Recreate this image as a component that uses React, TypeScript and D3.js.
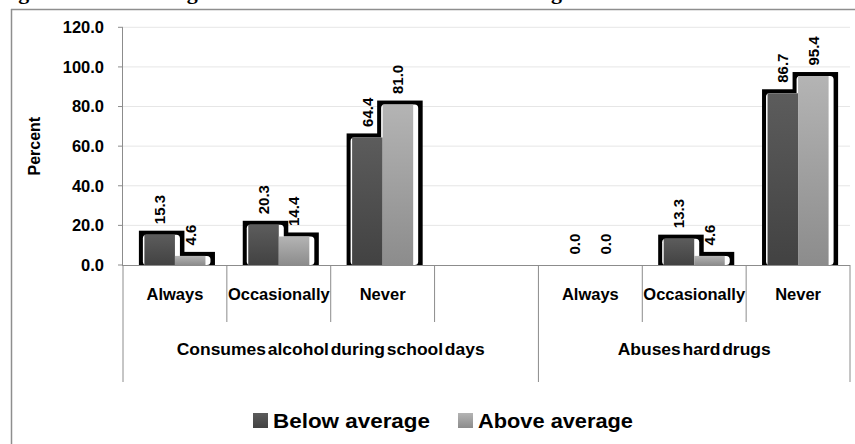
import React from "react";
import * as d3 from "d3";

// Chart data
const categories = ["Always", "Occasionally", "Never", "", "Always", "Occasionally", "Never"];
const groupLabels = ["Consumes alcohol during school days", "Abuses hard drugs"];
const groupSizes = [4, 3];
const seriesNames = ["Below average", "Above average"];
const belowAverage: (number | null)[] = [15.3, 20.3, 64.4, null, 0.0, 13.3, 86.7];
const aboveAverage: (number | null)[] = [4.6, 14.4, 81.0, null, 0.0, 4.6, 95.4];
const yTicks = [0, 20, 40, 60, 80, 100, 120];
const yTitle = "Percent";
const figureTitle = "Figure 4.8: Drug abuse behavior and learning achievement level";

const W = 855;
const H = 444;
const FONT = "'Liberation Sans', Arial, Helvetica, sans-serif";

export default function App() {
  const plotLeft = 123;
  const plotRight = 850;
  const plotTop = 27.3;
  const plotBottom = 265;
  const catRowBottom = 322;
  const groupRowBottom = 382;

  const y = d3.scaleLinear().domain([0, 120]).range([plotBottom, plotTop]);
  const x = d3
    .scaleBand<number>()
    .domain(d3.range(categories.length))
    .range([plotLeft, plotRight])
    .padding(0);
  const slot = x.bandwidth();
  const barW = slot * 0.294;

  const series = [belowAverage, aboveAverage];
  const gradIds = ["gradBelow", "gradAbove"];

  type Bar = { x0: number; top: number; v: number; s: number; i: number };
  const bars: Bar[] = [];
  series.forEach((vals, s) => {
    vals.forEach((v, i) => {
      if (v === null) return;
      const c = (x(i) as number) + slot / 2;
      const x0 = s === 0 ? c - barW : c;
      bars.push({ x0, top: y(v), v, s, i });
    });
  });
  const visibleBars = bars.filter((b) => b.v > 0);

  // group boundaries along the category axis
  const groupBounds: number[] = [0];
  groupSizes.forEach((n, k) => groupBounds.push(groupBounds[k] + n));
  const groupTextLen = [308, 153];
  const legendTextLen = [157, 155];

  return (
    <svg width={W} height={H} style={{ display: "block", position: "absolute", left: 0, top: 0 }}>
      <defs>
        <linearGradient id="gradBelow" x1="0" y1="0" x2="0" y2="1">
          <stop offset="0%" stopColor="#5c5c5c" />
          <stop offset="100%" stopColor="#424242" />
        </linearGradient>
        <linearGradient id="gradAbove" x1="0" y1="0" x2="0" y2="1">
          <stop offset="0%" stopColor="#b4b4b4" />
          <stop offset="100%" stopColor="#8c8c8c" />
        </linearGradient>
      </defs>
      <rect width={W} height={H} fill="#ffffff" />

      {/* caption line above the chart frame, running off the top edge */}
      <text
        x={-8}
        y={-1.5}
        fontFamily="'Liberation Serif', 'Times New Roman', serif"
        fontWeight="bold"
        fontSize={22}
        textLength={800}
        lengthAdjust="spacing"
        fill="#000"
      >
        {figureTitle}
      </text>

      {/* chart frame */}
      <line x1={11.5} x2={11.5} y1={9} y2={H} stroke="#8e8e8e" strokeWidth={1.5} />
      <line x1={11} x2={W} y1={9.5} y2={9.5} stroke="#8e8e8e" strokeWidth={1.5} />

      {/* gridlines */}
      {yTicks
        .filter((t) => t > 0)
        .map((t) => (
          <line key={"g" + t} x1={plotLeft} x2={plotRight} y1={y(t)} y2={y(t)} stroke="#e6e6e6" strokeWidth={1} />
        ))}

      {/* y axis */}
      <line x1={plotLeft - 0.5} x2={plotLeft - 0.5} y1={plotTop} y2={plotBottom} stroke="#8c8c8c" strokeWidth={1} />
      {yTicks.map((t) => (
        <g key={"t" + t}>
          <line x1={plotLeft - 5} x2={plotLeft} y1={y(t)} y2={y(t)} stroke="#8c8c8c" strokeWidth={1} />
          <text
            x={104}
            y={y(t)}
            dy="0.35em"
            textAnchor="end"
            fontFamily={FONT}
            fontWeight="bold"
            fontSize={16.5}
            fill="#000"
          >
            {t.toFixed(1)}
          </text>
        </g>
      ))}
      <text
        transform={`translate(${40},${(plotTop + plotBottom) / 2}) rotate(-90)`}
        textAnchor="middle"
        fontFamily={FONT}
        fontWeight="bold"
        fontSize={16}
        fill="#000"
      >
        {yTitle}
      </text>

      {/* bars: outlines, bevel highlights, then fills */}
      {visibleBars.map((b, k) => (
        <rect key={"o" + k} x={b.x0 - 5.5} y={b.top - 4} width={barW + 15} height={plotBottom - b.top + 4} fill="#000" />
      ))}
      {visibleBars.map((b, k) => (
        <rect
          key={"w" + k}
          x={b.x0 - 1.5}
          y={b.top}
          width={barW + 6.5}
          height={plotBottom - b.top}
          rx={3.5}
          fill="#ffffff"
        />
      ))}
      {visibleBars.map((b, k) => (
        <rect key={"f" + k} x={b.x0} y={b.top} width={barW} height={plotBottom - b.top} fill={`url(#${gradIds[b.s]})`} />
      ))}

      {/* value labels */}
      {bars.map((b, k) => (
        <text
          key={"v" + k}
          transform={`translate(${b.x0 + barW / 2},${b.top - 10.5}) rotate(-90)`}
          dy="0.36em"
          textAnchor="start"
          fontFamily={FONT}
          fontWeight="bold"
          fontSize={15}
          fill="#000"
        >
          {b.v.toFixed(1)}
        </text>
      ))}

      {/* category axis */}
      <line x1={plotLeft - 1} x2={plotRight} y1={plotBottom + 0.5} y2={plotBottom + 0.5} stroke="#8c8c8c" strokeWidth={1} />
      {d3.range(categories.length + 1).map((i) => {
        const xx = i < categories.length ? (x(i) as number) : plotRight;
        const long = groupBounds.includes(i);
        return (
          <line
            key={"d" + i}
            x1={xx}
            x2={xx}
            y1={plotBottom}
            y2={long ? groupRowBottom : catRowBottom}
            stroke="#8c8c8c"
            strokeWidth={1}
          />
        );
      })}
      {categories.map((c, i) => (
        <text
          key={"c" + i}
          x={(x(i) as number) + slot / 2}
          y={(plotBottom + catRowBottom) / 2 + 1}
          dy="0.35em"
          textAnchor="middle"
          fontFamily={FONT}
          fontWeight="bold"
          fontSize={16.5}
          fill="#000"
        >
          {c}
        </text>
      ))}
      {groupLabels.map((g, k) => {
        const a = x(groupBounds[k]) as number;
        const bIdx = groupBounds[k + 1];
        const bx = bIdx < categories.length ? (x(bIdx) as number) : plotRight;
        return (
          <text
            key={"gl" + k}
            x={(a + bx) / 2}
            y={(catRowBottom + groupRowBottom) / 2 - 3}
            dy="0.35em"
            textAnchor="middle"
            fontFamily={FONT}
            fontWeight="bold"
            fontSize={17}
            wordSpacing={-3}
            textLength={groupTextLen[k]}
            lengthAdjust="spacingAndGlyphs"
            fill="#000"
          >
            {g}
          </text>
        );
      })}

      {/* legend */}
      {seriesNames.map((n, k) => {
        const lx = [253, 458][k];
        return (
          <g key={"l" + k}>
            <rect x={lx} y={413} width={15} height={15} fill={`url(#${gradIds[k]})`} />
            <text
              x={lx + 20}
              y={428}
              fontFamily={FONT}
              fontWeight="bold"
              fontSize={21}
              textLength={legendTextLen[k]}
              lengthAdjust="spacingAndGlyphs"
              fill="#000"
            >
              {n}
            </text>
          </g>
        );
      })}
    </svg>
  );
}
